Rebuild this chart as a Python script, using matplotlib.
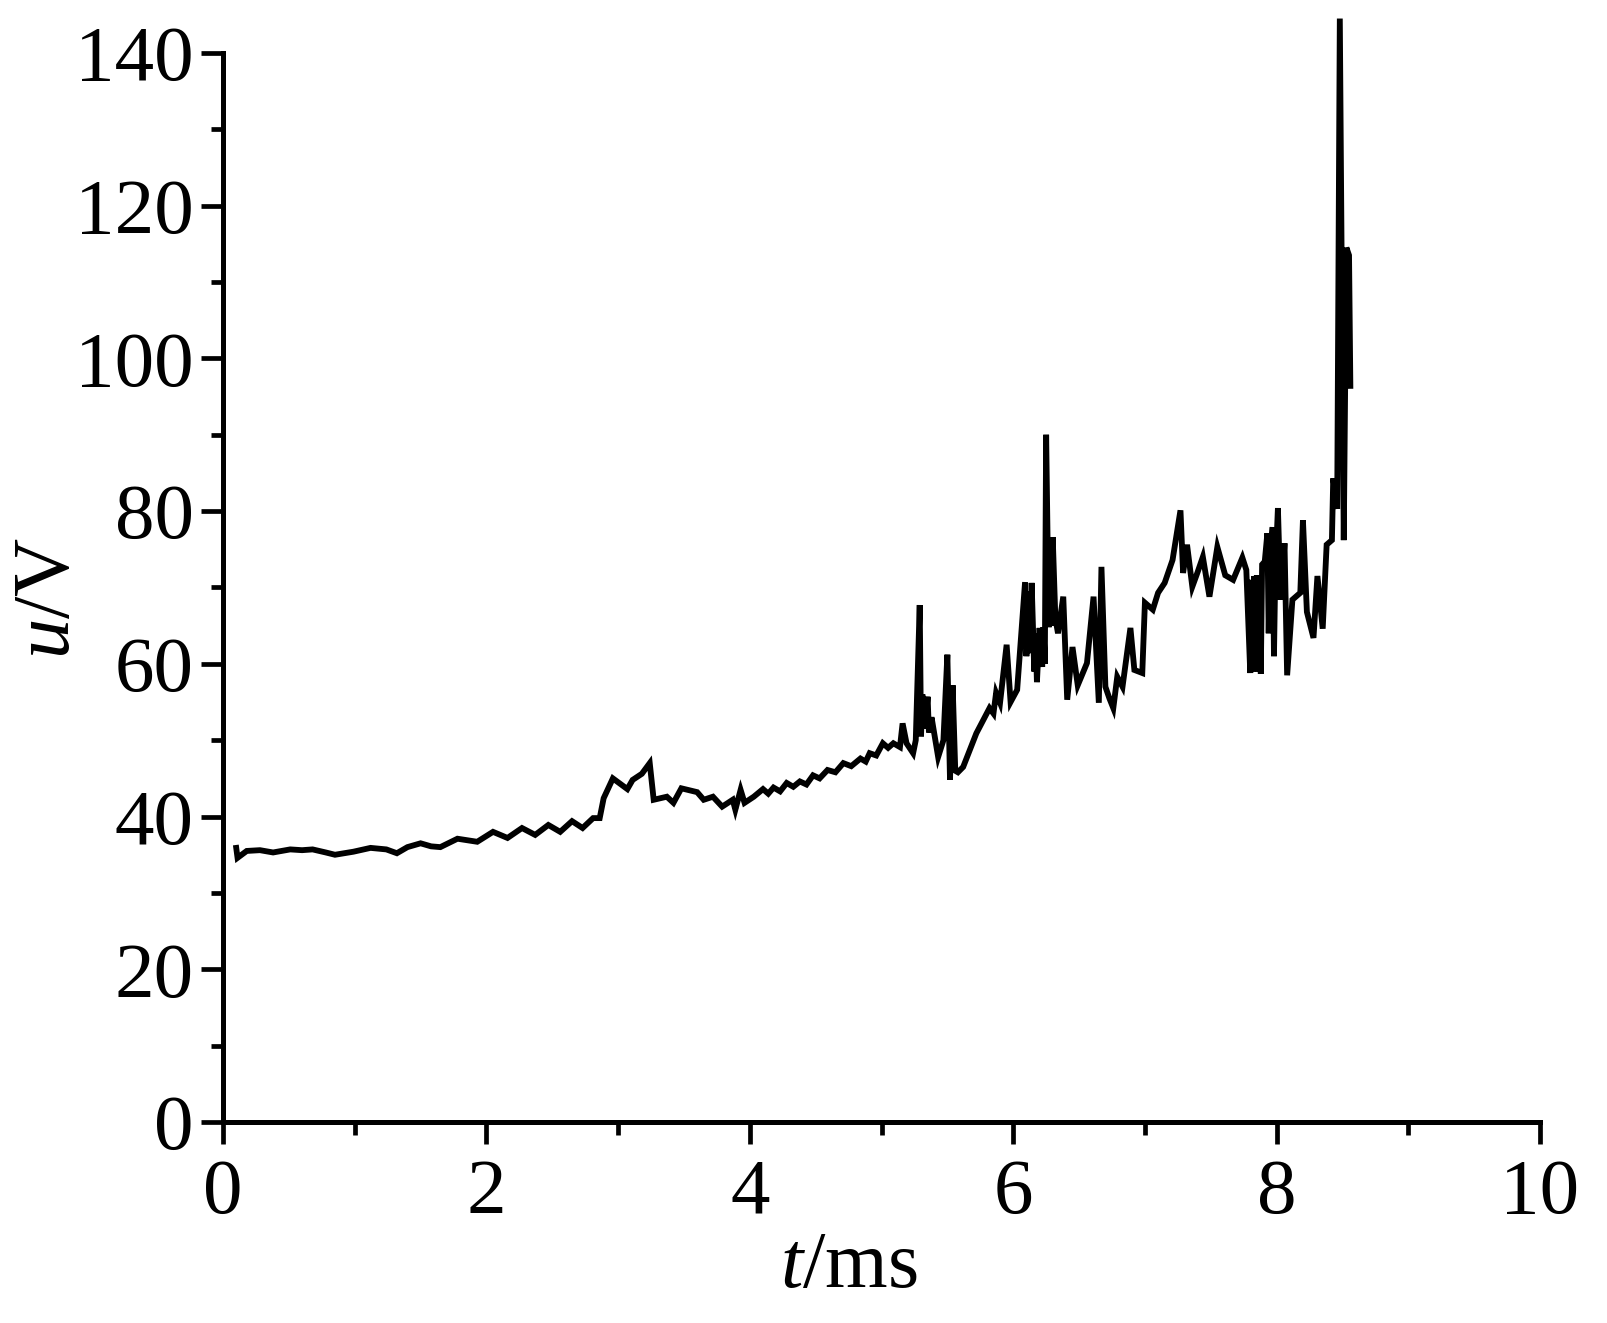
import numpy as np
import matplotlib
matplotlib.use('Agg')
import matplotlib.pyplot as plt
from matplotlib.ticker import MultipleLocator

plt.rcParams['font.family'] = ['Liberation Serif', 'DejaVu Serif']
plt.rcParams['mathtext.fontset'] = 'custom'
plt.rcParams['mathtext.rm'] = 'Liberation Serif'
plt.rcParams['mathtext.it'] = 'Liberation Serif:italic'

# voltage trace u(t) in pieces
t_a = [0.10, 0.11, 0.18, 0.28, 0.38, 0.51, 0.60, 0.68, 0.78, 0.85, 0.99, 1.12,
       1.24, 1.32, 1.40, 1.50, 1.58, 1.65, 1.78, 1.93, 2.05, 2.16, 2.27, 2.37,
       2.47, 2.56, 2.65, 2.73, 2.81, 2.86]
u_a = [35.9, 34.6, 35.5, 35.6, 35.3, 35.7, 35.6, 35.7, 35.3, 35.0, 35.4, 35.9,
       35.7, 35.2, 36.0, 36.5, 36.1, 36.0, 37.1, 36.7, 38.0, 37.2, 38.5, 37.6,
       38.9, 38.0, 39.4, 38.5, 39.8, 39.8]

t_b = [2.89, 2.96, 3.07, 3.11, 3.18, 3.24, 3.27, 3.37, 3.42, 3.48, 3.60, 3.65,
       3.72, 3.79, 3.87, 3.89, 3.93, 3.96, 4.03, 4.10, 4.14, 4.18, 4.23, 4.28,
       4.33, 4.38, 4.43, 4.48, 4.53, 4.59, 4.65, 4.71, 4.77, 4.84, 4.88, 4.91,
       4.96, 5.01, 5.05, 5.09]
u_b = [42.4, 45.0, 43.6, 44.8, 45.6, 47.0, 42.2, 42.6, 41.8, 43.7, 43.2, 42.2,
       42.6, 41.3, 42.2, 40.9, 43.5, 41.8, 42.6, 43.6, 43.0, 43.8, 43.3, 44.4,
       43.9, 44.6, 44.2, 45.4, 45.0, 46.1, 45.8, 47.0, 46.6, 47.6, 47.2, 48.3,
       48.0, 49.6, 49.0, 49.6]

t_c = [5.14, 5.16, 5.19, 5.24, 5.26, 5.29, 5.30, 5.31, 5.33, 5.35, 5.36, 5.38,
       5.43, 5.47, 5.50, 5.52, 5.54, 5.56, 5.58, 5.62, 5.72, 5.82, 5.85, 5.87,
       5.90, 5.95, 5.98, 6.03, 6.09, 6.10, 6.12, 6.13, 6.14, 6.16, 6.17, 6.18,
       6.20, 6.22, 6.23, 6.24, 6.25, 6.27, 6.28, 6.29, 6.30, 6.32, 6.34, 6.38,
       6.41, 6.45, 6.49, 6.56, 6.61, 6.65, 6.67, 6.70, 6.73, 6.76]
u_c = [49.1, 52.2, 49.6, 48.3, 50.0, 67.7, 50.5, 56.0, 51.5, 55.7, 51.0, 53.0,
       47.8, 50.0, 61.2, 44.8, 57.2, 46.0, 45.8, 46.5, 50.9, 54.2, 53.5, 56.2,
       54.9, 62.5, 55.0, 56.6, 70.7, 61.0, 69.5, 61.4, 70.6, 59.0, 64.0, 57.6,
       64.7, 59.6, 64.8, 60.0, 90.0, 64.8, 70.0, 65.0, 76.6, 66.0, 64.0, 68.8,
       55.3, 62.2, 57.2, 60.1, 68.8, 54.9, 72.7, 57.0, 55.5, 54.2]

t_d = [6.79, 6.83, 6.89, 6.92, 6.98, 7.00, 7.06, 7.10, 7.15, 7.21, 7.27, 7.29,
       7.32, 7.36, 7.40, 7.44, 7.49, 7.55, 7.61, 7.67, 7.74, 7.77, 7.80, 7.81,
       7.82, 7.83, 7.84, 7.85, 7.86, 7.87, 7.88, 7.89, 7.91, 7.93, 7.94, 7.95,
       7.97, 7.98, 7.99, 8.01, 8.03, 8.04, 8.06, 8.08]
u_d = [58.3, 57.0, 64.7, 59.2, 58.8, 68.0, 67.1, 69.3, 70.6, 73.6, 80.1, 71.9,
       75.6, 70.1, 72.0, 74.0, 68.8, 75.3, 71.6, 71.0, 73.9, 72.3, 58.8, 71.0,
       59.0, 71.5, 59.2, 71.6, 59.0, 70.5, 58.7, 73.0, 73.4, 77.1, 64.0, 74.0,
       77.9, 61.0, 72.0, 80.4, 68.4, 70.0, 75.8, 58.5]

t_e = [8.12, 8.18, 8.20, 8.23, 8.28, 8.31, 8.35, 8.38, 8.42, 8.43, 8.46, 8.48,
       8.51, 8.53, 8.55, 8.56]
u_e = [68.4, 69.3, 78.8, 66.8, 63.4, 71.5, 64.6, 75.6, 76.2, 84.3, 80.3, 144.5,
       76.2, 114.5, 113.5, 96.4]

t = np.concatenate([t_a, t_b, t_c, t_d, t_e])
u = np.concatenate([u_a, u_b, u_c, u_d, u_e])

fig = plt.figure(figsize=(16.07, 13.23), dpi=100)
ax = fig.add_axes([0.1388, 0.1519, 0.8195, 0.8081])

ax.plot(t, u, color='black', lw=4.2, clip_on=False, solid_joinstyle='miter')

ax.set_xlim(0, 10)
ax.set_ylim(0, 140)
ax.xaxis.set_major_locator(MultipleLocator(2))
ax.xaxis.set_minor_locator(MultipleLocator(1))
ax.yaxis.set_major_locator(MultipleLocator(20))
ax.yaxis.set_minor_locator(MultipleLocator(10))

for side in ['top', 'right']:
    ax.spines[side].set_visible(False)
for side in ['left', 'bottom']:
    ax.spines[side].set_linewidth(3.6)

ax.tick_params(which='major', direction='out', length=16, width=3.4,
               labelsize=57)
ax.tick_params(axis='x', which='major', pad=10)
ax.tick_params(axis='y', which='major', pad=5)
ax.tick_params(which='minor', direction='out', length=9, width=3.4)

ax.set_xlabel('$t$/ms', fontsize=58)
ax.set_ylabel('$u$/V', fontsize=58)
ax.xaxis.set_label_coords(0.475, -0.102)
ax.yaxis.set_label_coords(-0.104, 0.49)

fig.savefig('out.png', dpi=100)
